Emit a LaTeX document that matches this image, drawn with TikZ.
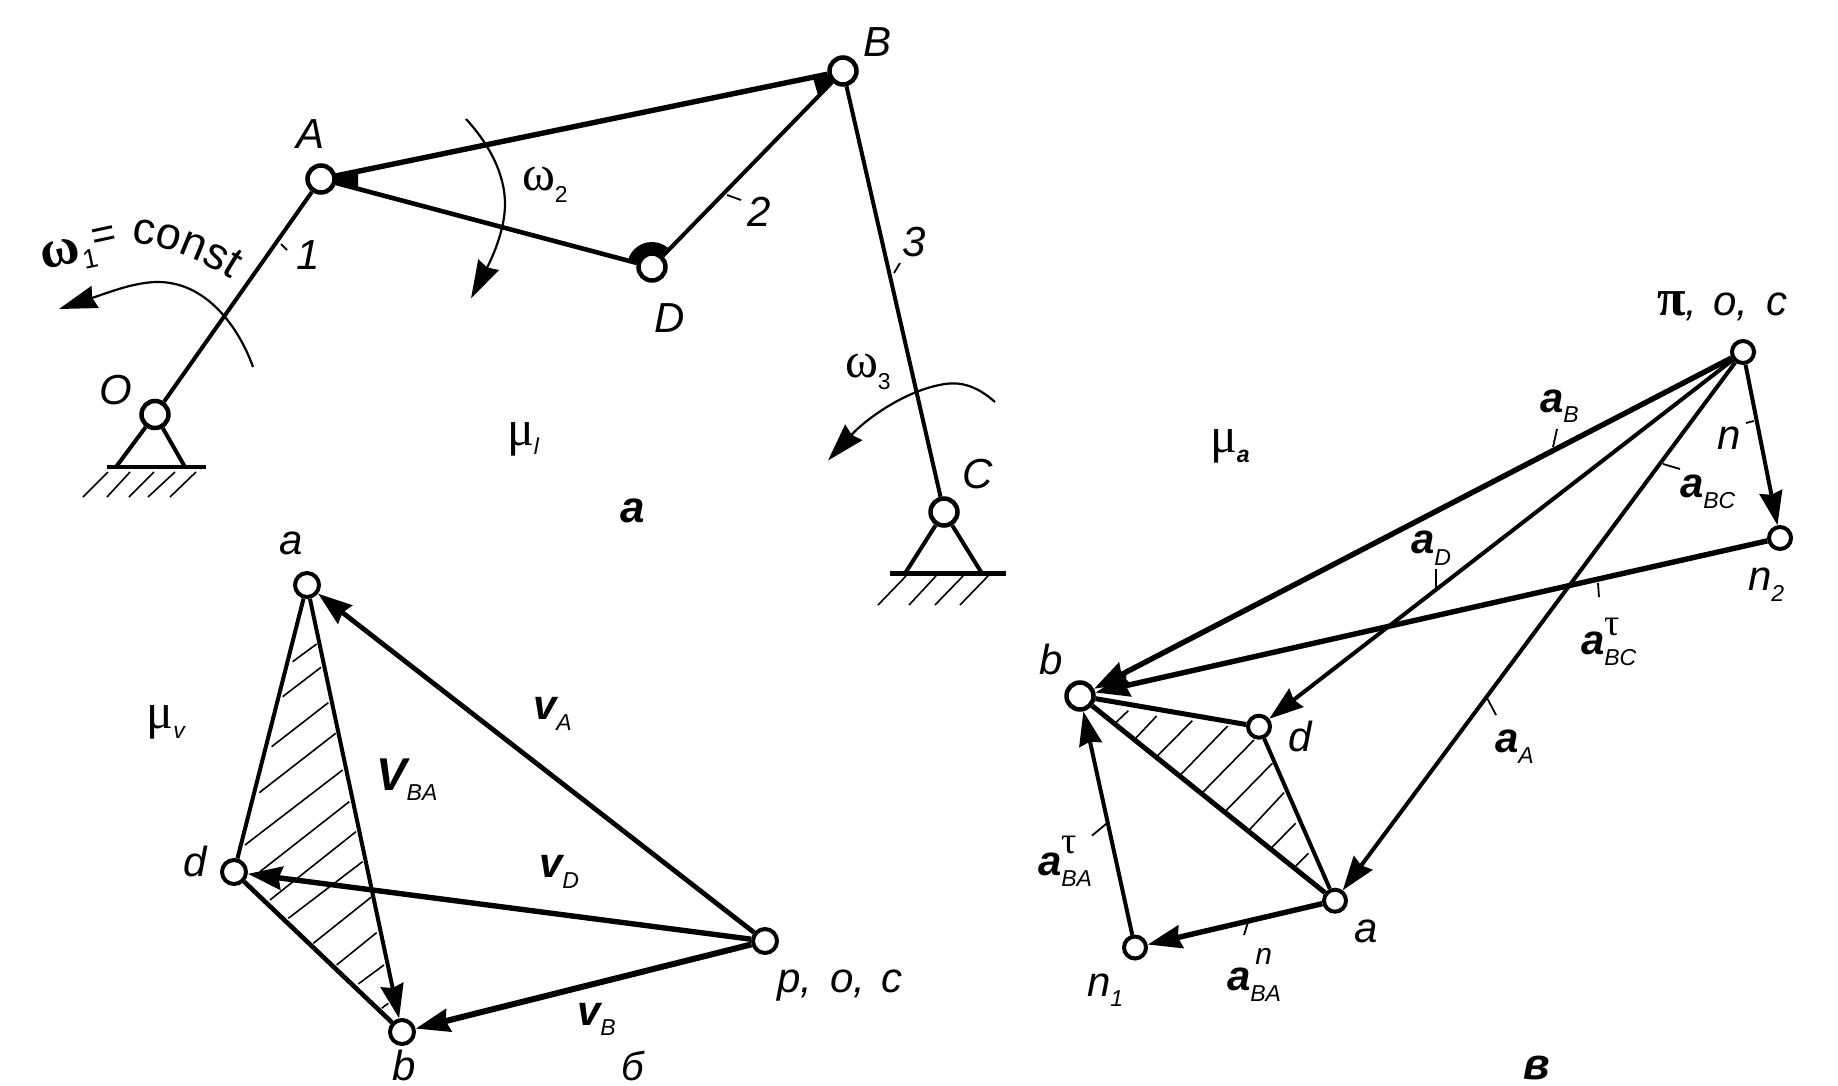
\documentclass[tikz,border=0pt]{standalone}
\usepackage{fontspec}
\setmainfont{Liberation Sans}
\newfontfamily\grk{Liberation Serif}
\usetikzlibrary{arrows.meta,decorations.text}
\newcommand{\fs}[1]{\fontsize{#1}{#1}\selectfont}
\newcommand{\lo}[2]{\raisebox{-#1pt}{\fs{23}\mdseries #2}}
\newcommand{\bfa}[1]{{\bfseries #1}}
\newcommand{\gk}[1]{{\upshape\grk #1}}
\begin{document}
\begin{tikzpicture}[x=1pt,y=-1pt,
  jbig/.style={circle,draw=black,fill=white,line width=4.5pt,inner sep=0pt,minimum size=27pt},
  jmid/.style={circle,draw=black,fill=white,line width=4pt,inner sep=0pt,minimum size=24pt},
  jsml/.style={circle,draw=black,fill=white,line width=4pt,inner sep=0pt,minimum size=22pt},
  lk/.style={line width=4pt,draw=black},
  lkb/.style={line width=5.4pt,draw=black},
  thn/.style={line width=1.8pt,draw=black},
  hat/.style={line width=1.6pt,draw=black},
  tp/.style={-{Stealth[length=34pt,width=23pt,inset=3pt]}},
  tpa/.style={-{Stealth[length=38pt,width=23pt,inset=3pt]},line width=2.2pt,draw=black},
  lab/.style={inner sep=0pt,outer sep=0pt,font=\itshape\fs{42}},
  labw/.style={lab,anchor=base west},
  gkl/.style={inner sep=0pt,outer sep=0pt,anchor=base west,font=\fs{50}},
  ground/.style={line width=4.5pt,draw=black}
]
\useasboundingbox (0,0) rectangle (1838,1086);
\fill[white] (0,0) rectangle (1838,1086);

% --- hatching (velocity triangle)
\begin{scope}[shift={(210,570)},x=0.3333pt,y=-0.3333pt]
\foreach \xa/\ya/\xb/\yb in {320/222/248/275,333/292/218/380,355/398/185/530,377/490/148/668,398/600/105/825,418/695/150/905,438/785/180/990,458/875/235/1045,483/982/310/1120,500/1088/380/1185,522/1185/445/1242,535/1300/515/1315}
  \draw[hat] (\xa,\ya) -- (\xb,\yb);
\end{scope}
% --- hatching (acceleration triangle)
\begin{scope}[shift={(1060,670)},x=0.3333pt,y=-0.3333pt]
\foreach \xa/\ya/\xb/\yb in {205/122/163/162,290/138/222/210,397/152/290/260,503/168/358/318,582/210/425/370,637/280/495/425,672/368/565/483,707/460/633/535,745/550/705/590}
  \draw[hat] (\xa,\ya) -- (\xb,\yb);
\end{scope}

% --- gussets
\fill (321,179) -- (358,170) -- (358,188) -- cycle;
\fill (843,71) -- (813,78) -- (818,95) -- cycle;
\fill (652,267) ++(-160:25) arc[start angle=-160,end angle=-50,radius=25] -- (652,267) -- cycle;

% --- ground hatching
\foreach \xa/\xb in {108/83,130/107,154/129,175/148,196/170}
  \draw[hat] (\xa,472) -- (\xb,497);
\foreach \xa/\xb in {906/878,936/909,963/935,988/960}
  \draw[hat] (\xa,576) -- (\xb,605);

% --- joints
\node[jbig] (O) at (155,414.5) {};
\node[jbig] (A) at (321,179) {};
\node[jbig] (B) at (843,71) {};
\node[jbig] (D) at (652,267) {};
\node[jbig] (C) at (944,512) {};
\node[jmid] (va) at (307,585) {};
\node[jmid] (vd) at (234,872) {};
\node[jmid] (vb) at (402,1032) {};
\node[jmid] (vp) at (765,941) {};
\node[jsml] (pi) at (1743,352) {};
\node[jsml] (n2) at (1780,538) {};
\node[jbig] (ab) at (1080,696) {};
\node[jsml] (ad) at (1259,726.7) {};
\node[jsml] (aa) at (1335,900.7) {};
\node[jsml] (n1) at (1135,947.5) {};

% --- ground
\coordinate (g1l) at (107,467); \coordinate (g1r) at (206,467);
\coordinate (g1a) at (116,467); \coordinate (g1b) at (185,467);
\coordinate (g2l) at (890,573.5); \coordinate (g2r) at (1006,573.5);
\coordinate (g2a) at (905,573.5); \coordinate (g2b) at (982,573.5);
\draw[lk] (O) -- (g1a); \draw[lk] (O) -- (g1b);
\draw[ground] (g1l) -- (g1r);
\draw[lk] (C) -- (g2a); \draw[lk] (C) -- (g2b);
\draw[ground] (g2l) -- (g2r);

% --- mechanism links
\draw[lk] (O) -- (A);
\draw[lkb] (A) -- (B);
\draw[lkb,line width=4.6pt] (A) -- (D);
\draw[lk] (D) -- (B);
\draw[lk] (B) -- (C);

% --- velocity plan
\draw[lk] (va) -- (vd);
\draw[lk,line width=4.6pt] (vd) -- (vb);
\draw[lk,tp] (va) -- (vb);
\draw[lkb,line width=4.8pt,tp] (vp) -- (va);
\draw[lkb,tp] (vp) -- (vd);
\draw[lkb,line width=6pt,tp] (vp) -- (vb);

% --- acceleration plan
\draw[lkb,tp] (pi) -- (ab);
\draw[lk,tp] (pi) -- (ad);
\draw[lk,tp] (pi) -- (aa);
\draw[lk,tp] (pi) -- (n2);
\draw[lkb,tp] (n2) -- (ab);
\draw[lkb,line width=5pt] (ab) -- (ad);
\draw[lkb,line width=5pt] (ab) -- (aa);
\draw[lk] (ad) -- (aa);
\draw[lkb,tp] (aa) -- (n1);
\draw[lk,tp] (n1) -- (ab);

% --- rotation arcs
\coordinate (w1s) at (253,367); \coordinate (w1m) at (158,282); \coordinate (w1e) at (59,309);
\draw[tpa] (w1s) .. controls (238,325) and (205,282) .. (w1m) .. controls (135,282) and (110,292) .. (w1e);
\coordinate (w2s) at (466,119); \coordinate (w2m) at (505,204); \coordinate (w2e) at (471,298.5);
\draw[tpa] (w2s) .. controls (490,145) and (505,175) .. (w2m) .. controls (505,232) and (490,262) .. (w2e);
\coordinate (w3s) at (995,402); \coordinate (w3m) at (945,384); \coordinate (w3e) at (828,460.5);
\draw[tpa] (w3s) .. controls (975,384) and (958,382) .. (w3m) .. controls (905,390) and (865,420) .. (w3e);

% --- ticks
\draw[thn] (281,244) -- (287,250);
\draw[thn] (727,195) -- (741,200);
\draw[thn] (894,273) -- (900,263);
\draw[thn] (1557,429) -- (1553,447);
\draw[thn] (1754,421) -- (1746,423);
\draw[thn] (1663,464) -- (1680,469);
\draw[thn] (1248,922) -- (1244,935);
\draw[thn] (1106.6,823.5) -- (1092,835.6);
\draw[thn] (1487.6,699) -- (1496,715);
\draw[thn] (1598,583) -- (1599,597);
\draw[thn] (1436,569) -- (1436,588);

% --- labels, mechanism
\node[lab] (lA) at (311,134) {A};
\node[lab] (lB) at (877,42) {B};
\node[lab] (lO) at (116,390) {O};
\node[lab] (lD) at (670,318) {D};
\node[lab] (lC) at (978,474) {C};
\node[lab] (l1) at (308,255) {1};
\node[lab] (l2) at (759,212) {2};
\node[lab] (l3) at (914,242) {3};
\node[gkl] (lw2) at (522,191) {\gk{ω}\lo{12}{\upshape 2}};
\node[gkl] (lw3) at (845,377) {\gk{ω}\lo{12}{\upshape 3}};
\node[gkl,rotate=12] (lw1) at (43.4,269.5) {\fs{54}\gk{\bfseries ω}\hspace{1pt}\raisebox{-9pt}{\fs{27}\upshape 1}{\fs{42}\hspace{-2pt}\raisebox{8pt}{=}}};
\path[decorate,decoration={text along path,text align=left,text={|\fontsize{45}{45}\selectfont|const}}]
  (131,243) .. controls (170,246) and (210,262) .. (255,296);
\node[gkl] (lml) at (507,445) {\gk{μ}\lo{9}{\itshape l}};
\node[lab,font=\bfseries\itshape\fs{44}] (capa) at (633,511) {a};

% --- labels, velocity plan
\node[lab] (lva) at (291,543) {a};
\node[lab] (lvd) at (195,861.5) {d};
\node[lab] (lvb) at (404.5,1065) {b};
\node[labw] (lvp) at (777,992) {p,\hspace{18pt}o,\hspace{16pt}c};
\node[gkl] (lmv) at (146.5,728) {\gk{μ}\lo{10}{\itshape v}};
\node[labw] (lvA) at (533,719.6) {\bfa{v}\lo{11}{A}};
\node[labw] (lVBA) at (376,790) {{\bfseries\fs{46}V}\lo{10}{BA}};
\node[labw] (lvD) at (539,877) {\bfa{v}\lo{11}{D}};
\node[labw] (lvB) at (577,1025) {\bfa{v}\lo{10}{B}};
\node[lab,font=\itshape\fs{40}] (capb) at (633,1066) {б};

% --- labels, acceleration plan
\node[labw] (lpi) at (1657,315.7) {{\upshape\grk\bfseries\fs{52}π},\hspace{16pt}o,\hspace{18pt}c};
\node[gkl] (lma) at (1210,452) {\gk{μ}\lo{10}{\itshape\bfseries a}};
\node[labw] (laB) at (1540,412) {\bfa{a}\lo{10}{B}};
\node[lab] (ln) at (1729,438) {n};
\node[labw] (laBC) at (1680,497) {\bfa{a}\lo{11}{BC}};
\node[labw] (laD) at (1411,553) {\bfa{a}\lo{12}{D}};
\node[labw] (laA) at (1495,752.5) {\bfa{a}\lo{11}{A}};
\node[labw] (ltBC) at (1581,654) {\bfa{a}\rlap{\raisebox{19pt}{\fs{38}\gk{τ}}}\lo{11}{BC}};
\node[labw] (ltBA) at (1038,875) {\bfa{a}\rlap{\raisebox{22pt}{\fs{38}\gk{τ}}}\lo{11}{BA}};
\node[labw] (lnBA) at (1227,990) {\bfa{a}\rlap{\raisebox{26pt}{\hspace{5pt}\fs{30}\mdseries n}}\lo{11}{BA}};
\node[lab] (lab) at (1051,659) {b};
\node[lab] (lad) at (1300,736) {d};
\node[lab] (laa) at (1366,931.5) {a};
\node[labw] (ln1) at (1087,996.6) {n\lo{10}{1}};
\node[labw] (ln2) at (1748,590) {n\lo{11}{2}};
\node[lab,font=\bfseries\itshape\fs{44}] (capv) at (1537,1068) {в};
\end{tikzpicture}
\end{document}
